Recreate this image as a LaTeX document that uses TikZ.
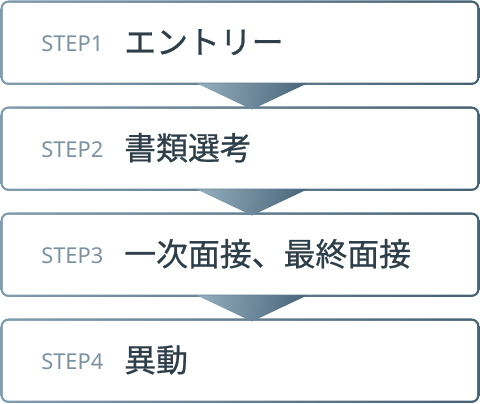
\documentclass[tikz,border=0pt]{standalone}
\usepackage{fontspec}
\setmainfont{Noto Sans}
\newfontfamily\jp[FakeBold=0.7]{Noto Sans CJK JP}
\definecolor{bordL}{HTML}{7F9DAE}
\definecolor{bordR}{HTML}{456275}
\definecolor{triL}{HTML}{8FAABA}
\definecolor{triR}{HTML}{4B687B}
\definecolor{steptxt}{HTML}{7A92A1}
\definecolor{maintxt}{HTML}{2F3F4A}
\tikzset{
  steplabel/.style={anchor=base west, inner sep=0pt, text=steptxt, font=\fontsize{16.4pt}{19pt}\selectfont},
  mainlabel/.style={anchor=base west, inner sep=0pt, text=maintxt, font=\jp\fontsize{23.9pt}{27pt}\selectfont},
  outer/.style={left color=bordL, right color=bordR, rounded corners=6pt},
  inner/.style={fill=white, rounded corners=4.3pt},
  tri/.style={left color=triL, right color=triR, shading angle=80}
}
\begin{document}
\begin{tikzpicture}[x=0.75pt,y=0.75pt]
\useasboundingbox (0,0) rectangle (480,404);
% boxes (Y = 404 - y_img)
\foreach \k in {0,1,2,3}{
  \pgfmathsetmacro{\yt}{403.5-106*\k}
  \pgfmathsetmacro{\yb}{319-106*\k}
  \shade[outer] (0.5,\yb) rectangle (479.5,\yt);
  \fill[inner] (2.8,\yb+2.3) rectangle (477.2,\yt-2.3);
}
\coordinate (b1) at (252,320.5);
\coordinate (b2) at (252,214.5);
\coordinate (b3) at (252,108.5);
% connector triangles
\shade[tri] ([xshift=-41.25pt]b1) -- ([xshift=41.25pt]b1) -- ([yshift=-19.5pt]b1) -- cycle;
\shade[tri] ([xshift=-41.25pt]b2) -- ([xshift=41.25pt]b2) -- ([yshift=-19.5pt]b2) -- cycle;
\shade[tri] ([xshift=-41.25pt]b3) -- ([xshift=41.25pt]b3) -- ([yshift=-19.5pt]b3) -- cycle;
% labels
\node[steplabel] (s1) at (41,352.5) {STEP1};
\node[mainlabel] (t1) at (124,350.2) {エントリー};
\node[steplabel] (s2) at (41,246.5) {STEP2};
\node[mainlabel] (t2) at (124,244.2) {書類選考};
\node[steplabel] (s3) at (41,140.5) {STEP3};
\node[mainlabel] (t3) at (124,138.2) {一次面接、最終面接};
\node[steplabel] (s4) at (41,34.5) {STEP4};
\node[mainlabel] (t4) at (124,32.2) {異動};
\end{tikzpicture}
\end{document}
